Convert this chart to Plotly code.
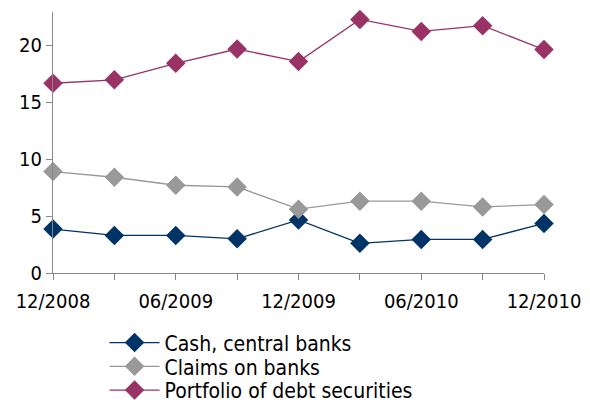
import plotly.graph_objects as go

# --- DONNÉES ---
periods = ["12/2008", "03/2009", "06/2009", "09/2009", "12/2009",
           "03/2010", "06/2010", "09/2010", "12/2010"]
tick_labels = ["12/2008", "", "06/2009", "", "12/2009", "", "06/2010", "", "12/2010"]
cash = [3.85, 3.3, 3.3, 3.0, 4.65, 2.6, 2.95, 2.95, 4.35]
claims = [8.9, 8.4, 7.7, 7.55, 5.6, 6.3, 6.3, 5.8, 6.0]
portfolio = [16.65, 16.95, 18.4, 19.65, 18.55, 22.25, 21.2, 21.7, 19.6]

x = list(range(len(periods)))

series = [
    ("Cash, central banks", cash, "#003366", "legend"),
    ("Claims on banks", claims, "#999999", "legend2"),
    ("Portfolio of debt securities", portfolio, "#993366", "legend3"),
]

police = "DejaVu Sans Condensed, DejaVu Sans"

fig = go.Figure()
for name, vals, col, leg in series:
    fig.add_trace(go.Scatter(
        x=x, y=vals, name=name, mode="lines+markers",
        line=dict(color=col, width=1.3),
        marker=dict(symbol="diamond", size=15, color=col),
        cliponaxis=False, legend=leg,
        customdata=periods,
        hovertemplate="%{customdata}: %{y}<extra>" + name + "</extra>",
    ))

fig.update_xaxes(
    range=[0, 8], tickvals=x, ticktext=tick_labels,
    showgrid=False, zeroline=False,
    showline=True, linecolor="#888888", linewidth=1,
    ticks="outside", ticklen=6, tickcolor="#888888",
    ticklabelstandoff=4,
    tickfont=dict(size=20, color="black"),
)
fig.update_yaxes(
    range=[0, 22.9], tickvals=[0, 5, 10, 15, 20],
    showgrid=False, zeroline=False,
    showline=True, linecolor="#888888", linewidth=1,
    ticks="outside", ticklen=6, tickcolor="#888888",
    tickfont=dict(size=20, color="black"),
)

# une légende par série pour placer chaque ligne comme sur l'original
leg_style = dict(x=0.105, xanchor="left", yanchor="middle",
                 font=dict(size=21), itemwidth=50, bgcolor="rgba(0,0,0,0)")

# la page ajoute 8px de marge autour du graphique -> taille réduite d'autant
fig.update_layout(
    width=582, height=395,
    margin={"l": 45, "r": 46, "t": 4, "b": 130, "autoexpand": False},
    plot_bgcolor="white", paper_bgcolor="white",
    font=dict(family=police, color="black"),
    legend=dict(y=-0.268, **leg_style),
    legend2=dict(y=-0.359, **leg_style),
    legend3=dict(y=-0.45, **leg_style),
    showlegend=True,
)

fig.write_html("out.html")
